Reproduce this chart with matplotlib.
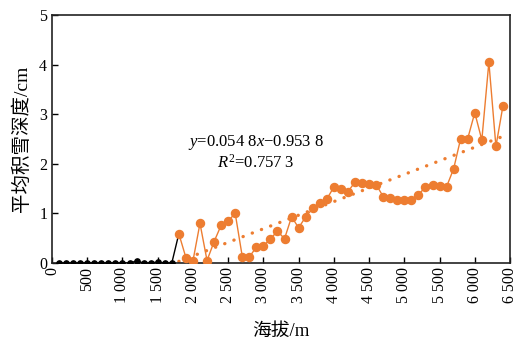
import numpy as np
import matplotlib
matplotlib.use('Agg')
import matplotlib.pyplot as plt
from matplotlib.ticker import FuncFormatter, MultipleLocator

plt.rcParams['font.family'] = ['Liberation Serif', 'Noto Sans CJK SC']
plt.rcParams['mathtext.fontset'] = 'custom'
plt.rcParams['mathtext.rm'] = 'Liberation Serif'
plt.rcParams['mathtext.it'] = 'Liberation Serif:italic'

# elevation (m) and mean snow depth (cm)
low_elev = [100, 200, 300, 400, 500, 600, 700, 800, 900, 1000,
            1100, 1200, 1300, 1400, 1500, 1600, 1700, 1800]
low_depth = [0, 0, 0, 0, 0, 0, 0, 0, 0, 0,
             0, 0.04, 0, 0, 0.02, 0, 0, 0.59]

high_elev = [1800, 1900, 2000, 2100, 2200, 2300, 2400, 2500, 2600, 2700,
             2800, 2900, 3000, 3100, 3200, 3300, 3400, 3500, 3600, 3700,
             3800, 3900, 4000, 4100, 4200, 4300, 4400, 4500, 4600, 4700,
             4800, 4900, 5000, 5100, 5200, 5300, 5400, 5500, 5600, 5700,
             5800, 5900, 6000, 6100, 6200, 6300, 6400]
high_depth = [0.59, 0.11, 0.04, 0.80, 0.05, 0.43, 0.76, 0.85, 1.00, 0.13,
              0.12, 0.32, 0.34, 0.49, 0.64, 0.49, 0.93, 0.71, 0.93, 1.10,
              1.20, 1.29, 1.53, 1.49, 1.44, 1.63, 1.61, 1.59, 1.58, 1.34,
              1.32, 1.28, 1.28, 1.28, 1.38, 1.53, 1.58, 1.56, 1.54, 1.90,
              2.51, 2.51, 3.03, 2.48, 4.05, 2.35, 3.17]

# linear trend, x = point index (1 at 100 m)
slope, intercept = 0.0548, -0.9538

orange = '#ED7D31'

fig = plt.figure(figsize=(5.16, 3.45), dpi=100)
ax = fig.add_axes([0.1008, 0.2377, 0.8876, 0.7188])

ax.plot(low_elev, low_depth, color='black', lw=1.0, marker='o', ms=3.8, zorder=3)
ax.plot(high_elev, high_depth, color=orange, lw=1.0, marker='o', ms=5.8, zorder=4)

idx = np.array(high_elev) / 100.0
ax.plot(high_elev, slope * idx + intercept, color=orange, lw=2.4,
        linestyle=(0, (0.05, 2.9)), dash_capstyle='round', zorder=2)

ax.text(2890, 2.42, r'$y$=0.054 8$x$−0.953 8', fontsize=12, ha='center', va='center')
ax.text(2890, 2.02, r'$R^2$=0.757 3', fontsize=12, ha='center', va='center')

ax.set_xlim(0, 6500)
ax.set_ylim(0, 5)
ax.xaxis.set_major_locator(MultipleLocator(500))
ax.yaxis.set_major_locator(MultipleLocator(1))


def thousands(v, pos):
    return f'{int(v):,}'.replace(',', ' ')


ax.xaxis.set_major_formatter(FuncFormatter(thousands))
ax.tick_params(axis='both', direction='in', length=4, width=1, labelsize=11.5)
ax.tick_params(axis='x', pad=3)
for lbl in ax.get_xticklabels():
    lbl.set_rotation(90)
for s in ax.spines.values():
    s.set_linewidth(1.2)
    s.set_color('#222222')

ax.set_xlabel('海拔/m', fontsize=13.5, labelpad=14)
ax.set_ylabel('平均积雪深度/cm', fontsize=14, labelpad=6)

fig.savefig('out.png', dpi=100)
